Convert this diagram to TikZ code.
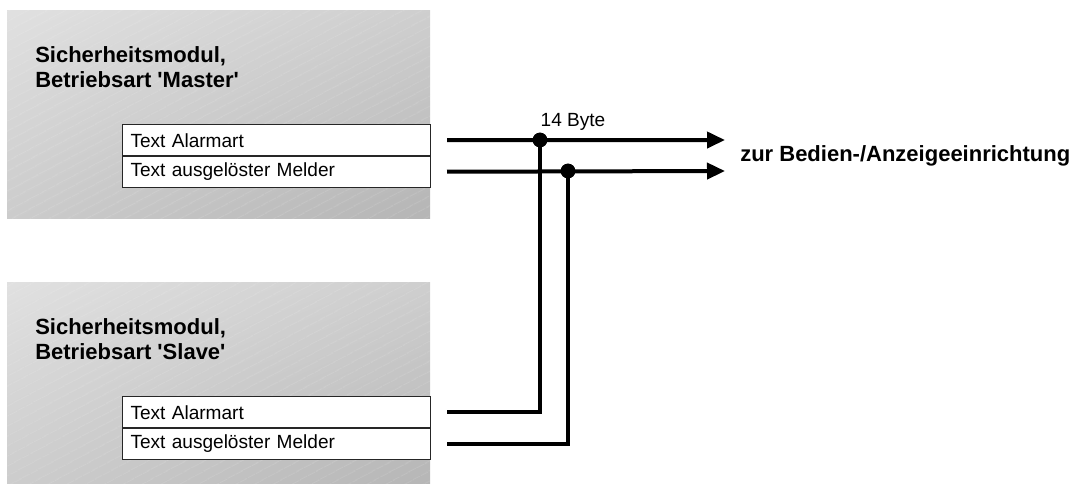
\documentclass[tikz,border=0pt]{standalone}
\usepackage{fontspec}
\setmainfont{Liberation Sans}
\usetikzlibrary{arrows.meta, patterns.meta, shadings}

\begin{document}
\begin{tikzpicture}[x=0.75pt, y=-0.75pt,
	modul/.style={upper left=gray!24, upper right=gray!38, lower left=gray!40, lower right=gray!58},
	schraffur/.style={pattern={Lines[angle=28,distance=6.5pt,line width=.45pt]}, pattern color=white, fill opacity=.18},
	zeile/.style={draw=black!85, line width=.75pt, fill=white, anchor=north west, text width=219pt, inner xsep=6pt, minimum height=23.6pt, align=left, font=\fontsize{14.3}{17}\selectfont},
	titel/.style={anchor=west, align=left, inner sep=0pt, font=\bfseries\fontsize{16.5}{18.75}\selectfont},
	leitung/.style={line width=3pt},
	pfeil/.style={leitung, -{Triangle[length=13.5pt,width=12pt]}},
	punkt/.style={fill=black, circle, inner sep=0pt, minimum size=11pt}]
	\useasboundingbox (0,0) rectangle (1086,483);
	% Module
	\shade[modul] (7,10) rectangle (430,218);
	\fill[schraffur] (7,10) rectangle (430,218);
	\shade[modul] (7,282) rectangle (430,490);
	\fill[schraffur] (7,282) rectangle (430,490);
	\node[titel] (tMaster) at (35,67) {Sicherheitsmodul,\\Betriebsart \textquotesingle Master\textquotesingle};
	\node[titel] (tSlave) at (35,339) {Sicherheitsmodul,\\Betriebsart \textquotesingle Slave\textquotesingle};
	\node[zeile] (mA) at (122,124) {Text Alarmart};
	\node[zeile] (mM) at (122,155.5) {Text ausgelöster Melder};
	\node[zeile] (sA) at (122,396) {Text Alarmart};
	\node[zeile] (sM) at (122,427.5) {Text ausgelöster Melder};
	% Leitungen
	\coordinate (zielA) at (725,140);
	\coordinate (zielM) at (725,171);
	\draw[pfeil] ([xshift=12pt]mA.east) -- (zielA);
	\draw[pfeil] ([xshift=12pt]mM.east) -- (zielM);
	\node[punkt] (knA) at (540,140) {};
	\node[punkt] (knM) at (568,171) {};
	\draw[leitung] ([xshift=12pt]sA.east) -| (knA.center);
	\draw[leitung] ([xshift=12pt]sM.east) -| (knM.center);
	\node[punkt] at (knA) {};
	\node[punkt] at (knM) {};
	\node[font=\fontsize{14.3}{17}\selectfont] (lblByte) at (573,122) {14 Byte};
	\node[anchor=west, inner sep=0pt, font=\bfseries\fontsize{16.5}{18.75}\selectfont] (ziel) at (740,156) {zur Bedien-/Anzeigeeinrichtung};
\end{tikzpicture}
\end{document}
